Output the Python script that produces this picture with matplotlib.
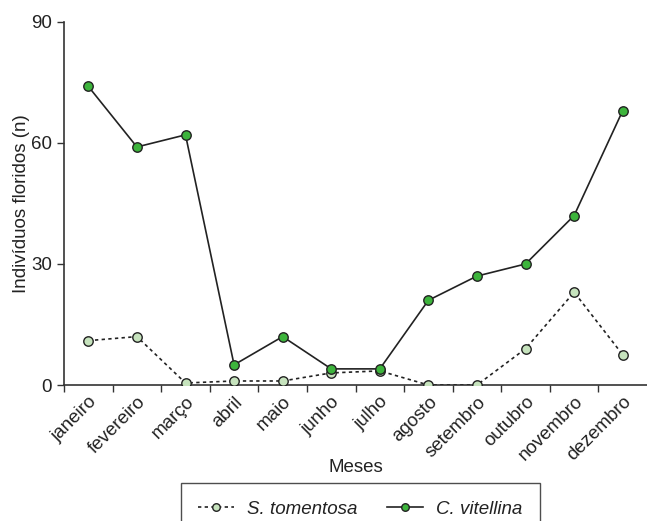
import matplotlib
matplotlib.use('Agg')
import matplotlib.pyplot as plt

plt.rcParams['font.family'] = ['Liberation Sans', 'DejaVu Sans']

# data
meses = ['janeiro', 'fevereiro', 'março', 'abril', 'maio', 'junho', 'julho',
         'agosto', 'setembro', 'outubro', 'novembro', 'dezembro']
s_tomentosa = [11, 12, 0.5, 1, 1, 3, 3.5, 0, 0, 9, 23, 7.5]
c_vitellina = [74, 59, 62, 5, 12, 4, 4, 21, 27, 30, 42, 68]
yticks = [0, 30, 60, 90]

fs = 13.5
fig = plt.figure(figsize=(6.47, 5.21), dpi=100)
ax = fig.add_axes([0.099, 0.261, 0.901, 0.697])

x = list(range(len(meses)))
ax.plot(x, s_tomentosa, linestyle=(0, (2, 2)), color='#222222', linewidth=1.2,
        marker='o', markersize=6.8, markerfacecolor='#c6e3bd',
        markeredgecolor='#222222', markeredgewidth=1, label='S. tomentosa', zorder=3)
ax.plot(x, c_vitellina, linestyle='-', color='#222222', linewidth=1.2,
        marker='o', markersize=6.8, markerfacecolor='#3db43c',
        markeredgecolor='#222222', markeredgewidth=1, label='C. vitellina', zorder=4)

ax.set_xlim(-0.5, 11.5)
ax.set_ylim(0, 90)
ax.set_yticks(yticks)
ax.set_xticks([i - 0.5 for i in x])
ax.set_xticklabels([])
ax.set_xticks(x, minor=True)
ax.set_xticklabels(meses, minor=True, rotation=45, ha='right',
                   rotation_mode='anchor', fontsize=fs, color='#222222')
ax.tick_params(axis='x', which='minor', length=0, pad=6)
ax.tick_params(axis='both', which='major', direction='out', length=5,
               width=1, color='#333333', labelsize=fs, labelcolor='#222222')

for side in ['top', 'right']:
    ax.spines[side].set_visible(False)
for side in ['left', 'bottom']:
    ax.spines[side].set_color('#333333')
    ax.spines[side].set_linewidth(1.2)

ax.set_ylabel('Indivíduos floridos (n)', fontsize=fs, color='#222222', labelpad=1)
ax.set_xlabel('Meses', fontsize=fs, color='#222222', labelpad=-4)

leg = fig.legend(loc='upper center', bbox_to_anchor=(0.557, 0.073), ncol=2,
                 frameon=True, fancybox=False, handlelength=1.9,
                 handletextpad=0.7, columnspacing=1.6, borderpad=0.95,
                 borderaxespad=0, markerscale=0.8,
                 prop={'style': 'italic', 'size': fs})
leg.get_frame().set_edgecolor('#222222')
leg.get_frame().set_linewidth(1.0)
for t in leg.get_texts():
    t.set_color('#222222')

plt.savefig('out.png', dpi=100)
